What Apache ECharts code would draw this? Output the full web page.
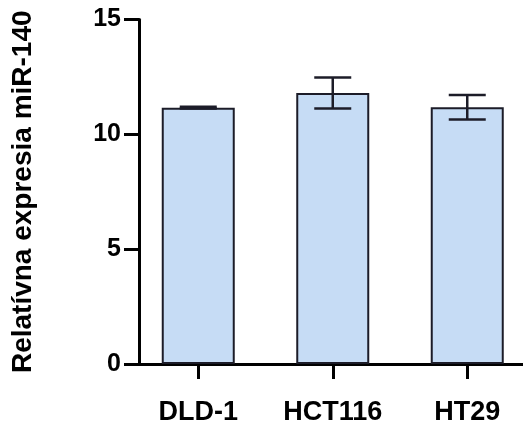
<!DOCTYPE html>
<html>
<head>
<meta charset="utf-8">
<script src="https://cdn.jsdelivr.net/npm/echarts@6/dist/echarts.min.js"></script>
<style>html,body{margin:0;padding:0;background:#fff;}#c{width:523px;height:423px;}</style>
</head>
<body>
<div id="c"></div>
<script>
const categories = ['DLD-1', 'HCT116', 'HT29'];
const means = [11.16, 11.8, 11.18];
const errors = [0.04, 0.67, 0.53];
const yTicks = [0, 5, 10, 15];
const yTitle = 'Relatívna expresia miR-140';

const chart = echarts.init(document.getElementById('c'), null, {renderer: 'canvas'});
const font = '"Liberation Sans", Arial, sans-serif';
chart.setOption({
  animation: false,
  backgroundColor: '#ffffff',
  grid: {left: 131, top: 19.5, width: 403.5, height: 344.5, containLabel: false, outerBoundsMode: 'none'},
  xAxis: {
    type: 'category',
    data: categories,
    axisLine: {lineStyle: {color: '#000', width: 3}},
    axisTick: {show: true, alignWithLabel: true, length: 15, lineStyle: {color: '#000', width: 3}},
    axisLabel: {color: '#000', fontFamily: font, fontWeight: 'bold', fontSize: 27, margin: 35}
  },
  yAxis: {
    type: 'value',
    min: yTicks[0],
    max: yTicks[yTicks.length - 1],
    interval: 5,
    offset: -8,
    name: yTitle,
    nameLocation: 'middle',
    nameGap: 102,
    nameTextStyle: {color: '#000', fontFamily: font, fontWeight: 'bold', fontSize: 28},
    axisLine: {show: true, lineStyle: {color: '#000', width: 3}},
    axisTick: {show: true, length: 15, lineStyle: {color: '#000', width: 3}},
    axisLabel: {color: '#000', fontFamily: font, fontWeight: 'bold', fontSize: 25, margin: 18},
    splitLine: {show: false}
  },
  series: [
    {
      type: 'bar',
      data: means,
      barWidth: 73,
      itemStyle: {color: '#c6dcf5', borderColor: '#1c1c28', borderWidth: 2}
    },
    {
      type: 'custom',
      data: means.map((m, i) => [i, m, errors[i]]),
      renderItem: function (params, api) {
        const i = api.value(0);
        const m = api.value(1);
        const e = api.value(2);
        const hi = api.coord([i, m + e]);
        const lo = api.coord([i, m - e]);
        const hw = 18.5;
        const style = {stroke: '#1c1c28', lineWidth: 2.5};
        return {
          type: 'group',
          children: [
            {type: 'line', shape: {x1: hi[0], y1: hi[1], x2: lo[0], y2: lo[1]}, style: style},
            {type: 'line', shape: {x1: hi[0] - hw, y1: hi[1], x2: hi[0] + hw, y2: hi[1]}, style: style},
            {type: 'line', shape: {x1: lo[0] - hw, y1: lo[1], x2: lo[0] + hw, y2: lo[1]}, style: style}
          ]
        };
      },
      z: 5
    }
  ]
});
</script>
</body>
</html>
